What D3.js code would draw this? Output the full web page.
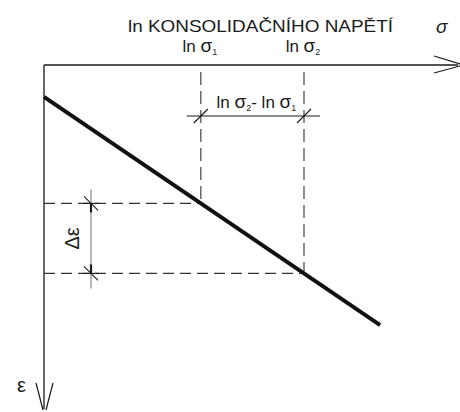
<!DOCTYPE html>
<html lang="cs">
  <head>
    <meta charset="utf-8">
    <title>ln konsolidačního napětí</title>
    <script src="https://d3js.org/d3.v7.js"></script>
    <style>
    body {margin: 0; background: white;}
    text {font-family: "Liberation Sans", Arial, sans-serif; fill: #1a1a1a;}
    </style>
  </head>
  <body>
  <script>

  var w = 460;
  var h = 412;

  // data (abstract units: ln sigma along x, epsilon downward along y)
  var lineLnSigma = [0, 8.08];
  var lineEps = [0.94, 7.65];
  var lnSigmaMarks = [3.77, 6.25];
  var epsMarks = [4.07, 6.13];
  var markLabels = ["1", "2"];

  var xScale = d3.scaleLinear().domain([0, 10]).range([44, 460]);
  var yScale = d3.scaleLinear().domain([0, 10]).range([65, 405]);

  var svg = d3.select("body")
      .append("svg")
      .attr("width", w)
      .attr("height", h);

  var ink = "#1a1a1a";

  // axes
  svg.append("line")
     .attr("x1", xScale(0)).attr("y1", yScale(0))
     .attr("x2", xScale(10) - 2).attr("y2", yScale(0))
     .attr("stroke", ink).attr("stroke-width", 1.3);
  svg.append("line")
     .attr("x1", xScale(0)).attr("y1", yScale(0))
     .attr("x2", xScale(0)).attr("y2", yScale(10) + 4)
     .attr("stroke", ink).attr("stroke-width", 1.3);

  // arrow on x axis
  var ax = xScale(10), ay = yScale(0);
  svg.append("line").attr("x1", ax - 26).attr("y1", ay - 9).attr("x2", ax).attr("y2", ay - 1)
     .attr("stroke", ink).attr("stroke-width", 1.2);
  svg.append("line").attr("x1", ax - 26).attr("y1", ay + 8).attr("x2", ax).attr("y2", ay + 1)
     .attr("stroke", ink).attr("stroke-width", 1.2);

  // arrow on y axis
  var bx = xScale(0), by = yScale(10) + 5;
  svg.append("line").attr("x1", bx - 8).attr("y1", by - 27).attr("x2", bx - 1).attr("y2", by)
     .attr("stroke", ink).attr("stroke-width", 1.2);
  svg.append("line").attr("x1", bx + 9).attr("y1", by - 27).attr("x2", bx + 2).attr("y2", by)
     .attr("stroke", ink).attr("stroke-width", 1.2);

  // dashed projection lines
  lnSigmaMarks.forEach(function(s, i) {
    svg.append("line")
       .attr("x1", xScale(s)).attr("y1", yScale(0) + 7)
       .attr("x2", xScale(s)).attr("y2", yScale(epsMarks[i]))
       .attr("stroke", "#333").attr("stroke-width", 1.1)
       .attr("stroke-dasharray", "13,6");
    svg.append("line")
       .attr("x1", xScale(0)).attr("y1", yScale(epsMarks[i]))
       .attr("x2", xScale(s)).attr("y2", yScale(epsMarks[i]))
       .attr("stroke", "#333").attr("stroke-width", 1.1)
       .attr("stroke-dasharray", "11,6");
  });

  // horizontal dimension
  var dimY = 116;
  svg.append("line")
     .attr("x1", xScale(lnSigmaMarks[0]) - 14).attr("y1", dimY)
     .attr("x2", xScale(lnSigmaMarks[1]) + 16).attr("y2", dimY)
     .attr("stroke", ink).attr("stroke-width", 1.1);
  lnSigmaMarks.forEach(function(s) {
    svg.append("line")
       .attr("x1", xScale(s) - 7).attr("y1", dimY + 7)
       .attr("x2", xScale(s) + 7).attr("y2", dimY - 7)
       .attr("stroke", ink).attr("stroke-width", 1.1);
  });

  // vertical dimension
  var dimX = 91;
  svg.append("line")
     .attr("x1", dimX).attr("y1", yScale(epsMarks[0]) - 14)
     .attr("x2", dimX).attr("y2", yScale(epsMarks[1]) + 15)
     .attr("stroke", "#888").attr("stroke-width", 1.2);
  epsMarks.forEach(function(e, i) {
    svg.append("line")
       .attr("x1", dimX - 8).attr("y1", yScale(e))
       .attr("x2", dimX + 8).attr("y2", yScale(e))
       .attr("stroke", ink).attr("stroke-width", 1.1);
    svg.append("line")
       .attr("x1", dimX - 7).attr("y1", yScale(e) - 7)
       .attr("x2", dimX + 7).attr("y2", yScale(e) + 7)
       .attr("stroke", ink).attr("stroke-width", 1.1);
    svg.append("line")
       .attr("x1", dimX).attr("y1", yScale(e))
       .attr("x2", dimX).attr("y2", yScale(e) + (i == 0 ? 9 : -9))
       .attr("stroke", ink).attr("stroke-width", 2.2);
  });

  // consolidation line
  svg.append("line")
     .attr("x1", xScale(lineLnSigma[0])).attr("y1", yScale(lineEps[0]))
     .attr("x2", xScale(lineLnSigma[1])).attr("y2", yScale(lineEps[1]))
     .attr("stroke", "#111").attr("stroke-width", 4);

  // texts
  svg.append("text")
     .attr("x", 128).attr("y", 32)
     .attr("textLength", 265)
     .attr("lengthAdjust", "spacingAndGlyphs")
     .style("font-size", "16.5px")
     .text("ln KONSOLIDAČNÍHO NAPĚTÍ");
  svg.append("text")
     .attr("x", 436).attr("y", 33)
     .style("font-size", "19px").style("font-style", "italic")
     .text("σ");

  lnSigmaMarks.forEach(function(s, i) {
    var t = svg.append("text")
       .attr("x", xScale(s) - 1).attr("y", 52)
       .attr("text-anchor", "middle")
       .style("font-size", "17px");
    t.append("tspan").text("ln ");
    t.append("tspan").style("font-size", "19px").text("σ");
    t.append("tspan").attr("dy", 3).style("font-size", "9px").text(markLabels[i]);
  });

  var dt = svg.append("text")
     .attr("x", (xScale(lnSigmaMarks[0]) + xScale(lnSigmaMarks[1])) / 2 + 4).attr("y", 108)
     .attr("text-anchor", "middle")
     .style("font-size", "17px");
  dt.append("tspan").text("ln ");
  dt.append("tspan").style("font-size", "19px").text("σ");
  dt.append("tspan").attr("dy", 3).style("font-size", "9px").text(markLabels[1]);
  dt.append("tspan").attr("dy", -3).text("- ln ");
  dt.append("tspan").style("font-size", "19px").text("σ");
  dt.append("tspan").attr("dy", 3).style("font-size", "9px").text(markLabels[0]);

  svg.append("text")
     .attr("transform", "translate(79," + (yScale(epsMarks[0]) + yScale(epsMarks[1])) / 2 + ") rotate(-90)")
     .attr("text-anchor", "middle")
     .style("font-size", "20px")
     .text("Δε");

  svg.append("text")
     .attr("x", 17).attr("y", 392)
     .style("font-size", "20px")
     .text("ε");

  </script>
  </body>
</html>
